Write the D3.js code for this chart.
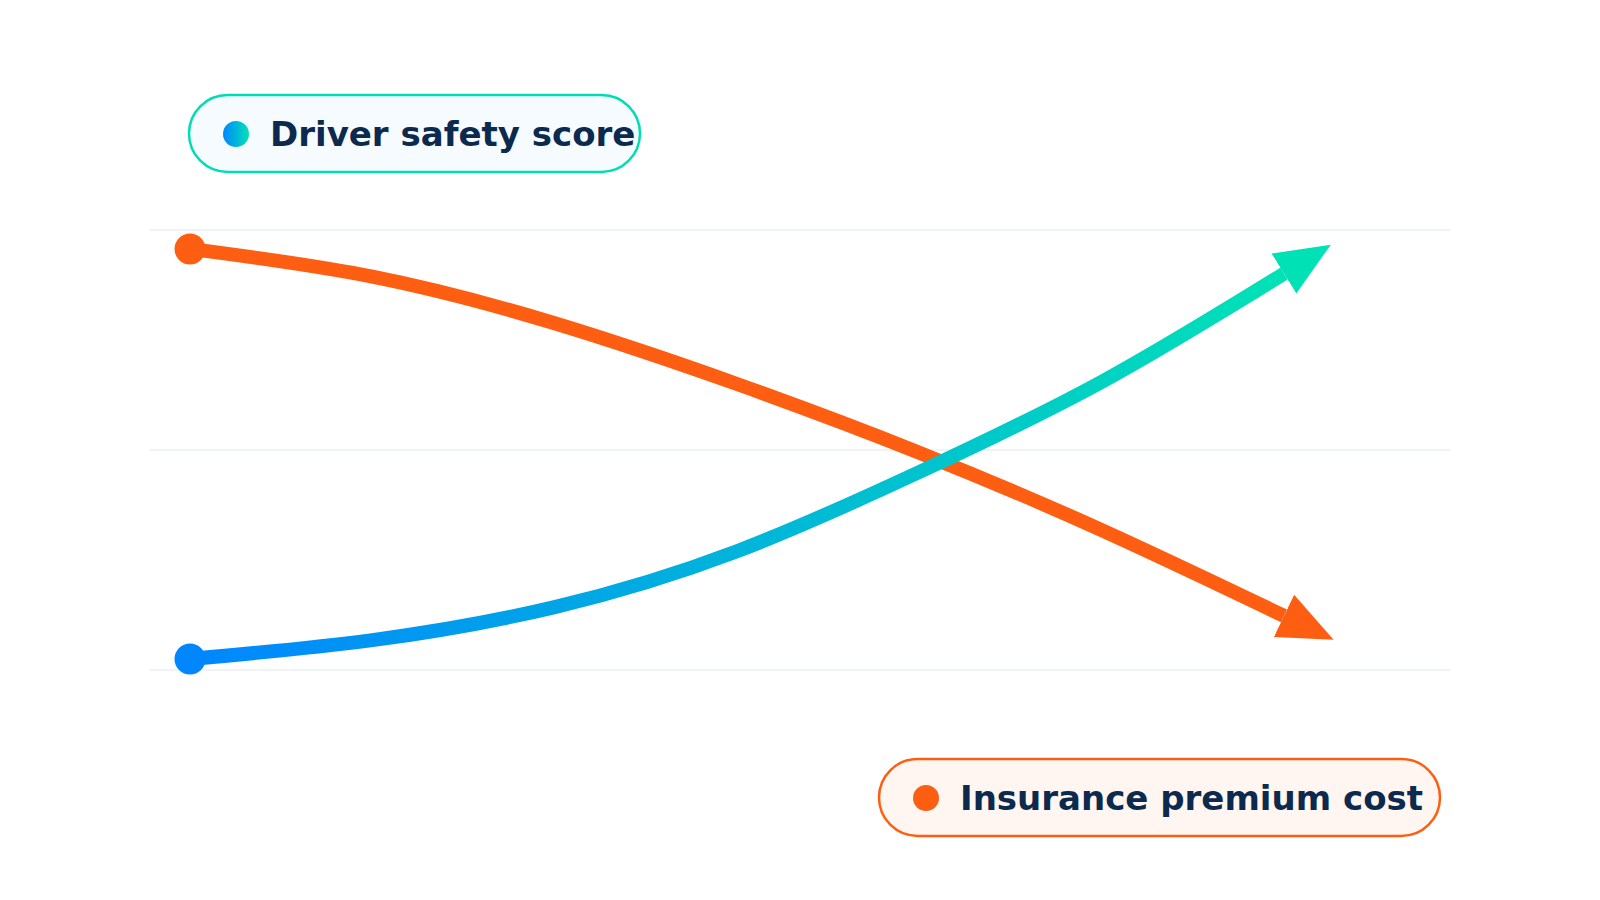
<!DOCTYPE html>
<html lang="en">
  <head>
    <meta charset="UTF-8">
    <title>Driver safety vs premium</title>
    <style>
      body { margin: 0; background: #ffffff; }
      #chart text { font-family: "DejaVu Sans", sans-serif; }
    </style>
  </head>
  <body>
    <div id="chart"></div>
    <script src="https://d3js.org/d3.v7.min.js"></script>
    <script>
      // values (0-100 scale)
      var stages = [0, 1, 2, 3, 4, 5, 6];
      var safetyScore = [2.5, 6.8, 14.3, 27.0, 45.0, 65.5, 90.1];
      var premiumCost = [95.7, 89.4, 78.8, 65.0, 49.4, 31.8, 12.3];
      var gridTicks = [0, 50, 100];
      var seriesNames = ["Driver safety score", "Insurance premium cost"];

      var width = 1600, height = 900;

      var svg = d3.select("#chart")
        .append("svg")
          .attr("width", width)
          .attr("height", height);

      var x = d3.scaleLinear()
          .domain([0, 6])
          .range([190, 1284]);

      var y = d3.scaleLinear()
          .domain([0, 100])
          .range([670, 230]);

      var defs = svg.append("defs");

      // gradient along the safety line, blue -> teal
      var grad = defs.append("linearGradient")
          .attr("id", "safetyGrad")
          .attr("gradientUnits", "userSpaceOnUse")
          .attr("x1", x(0)).attr("y1", 0)
          .attr("x2", x(6)).attr("y2", 0);
      grad.append("stop").attr("offset", "0%").attr("stop-color", "#0086ff");
      grad.append("stop").attr("offset", "100%").attr("stop-color", "#00e2b6");

      var dotGrad = defs.append("linearGradient")
          .attr("id", "dotGrad")
          .attr("x1", "0%").attr("x2", "100%");
      dotGrad.append("stop").attr("offset", "0%").attr("stop-color", "#0086ff");
      dotGrad.append("stop").attr("offset", "100%").attr("stop-color", "#00e2b6");

      function arrowMarker(id, color) {
        defs.append("marker")
            .attr("id", id)
            .attr("markerUnits", "userSpaceOnUse")
            .attr("viewBox", "0 -24 56 48")
            .attr("refX", 0)
            .attr("refY", 0)
            .attr("markerWidth", 56)
            .attr("markerHeight", 48)
            .attr("orient", "auto")
          .append("path")
            .attr("d", "M0,-23.5L55,0L0,23.5Z")
            .attr("fill", color);
      }
      arrowMarker("arrowTeal", "#00e2b6");
      arrowMarker("arrowOrange", "#fd5e12");

      // grid lines
      svg.append("g")
        .selectAll("line")
        .data(gridTicks)
        .enter()
        .append("line")
          .attr("x1", 150)
          .attr("x2", 1450)
          .attr("y1", function(d){ return y(d); })
          .attr("y2", function(d){ return y(d); })
          .attr("stroke", "#edf0f3")
          .attr("stroke-width", 1.5);

      var line = d3.line()
          .x(function(d){ return x(d[0]); })
          .y(function(d){ return y(d[1]); })
          .curve(d3.curveNatural);

      var premiumData = stages.map(function(s, i){ return [s, premiumCost[i]]; });
      var safetyData = stages.map(function(s, i){ return [s, safetyScore[i]]; });

      svg.append("path")
          .datum(premiumData)
          .attr("d", line)
          .attr("fill", "none")
          .attr("stroke", "#fd5e12")
          .attr("stroke-width", 14)
          .attr("marker-end", "url(#arrowOrange)");

      svg.append("path")
          .datum(safetyData)
          .attr("d", line)
          .attr("fill", "none")
          .attr("stroke", "url(#safetyGrad)")
          .attr("stroke-width", 14)
          .attr("marker-end", "url(#arrowTeal)");

      // start dots
      svg.append("circle")
          .attr("cx", x(stages[0]))
          .attr("cy", y(premiumCost[0]))
          .attr("r", 15.5)
          .attr("fill", "#fd5e12");

      svg.append("circle")
          .attr("cx", x(stages[0]))
          .attr("cy", y(safetyScore[0]))
          .attr("r", 15.5)
          .attr("fill", "#0086ff");

      // legend pills
      var legends = [
        {name: seriesNames[0], x: 189, y: 95, w: 451, fill: "#f5fbff", stroke: "#00ddb5", dot: "url(#dotGrad)"},
        {name: seriesNames[1], x: 879, y: 759, w: 561, fill: "#fff6f2", stroke: "#fd5e12", dot: "#fd5e12"}
      ];

      var lg = svg.selectAll(".legend")
        .data(legends)
        .enter()
        .append("g")
          .attr("class", "legend")
          .attr("transform", function(d){ return "translate(" + d.x + "," + d.y + ")"; });

      lg.append("rect")
          .attr("width", function(d){ return d.w; })
          .attr("height", 77)
          .attr("rx", 38.5)
          .attr("fill", function(d){ return d.fill; })
          .attr("stroke", function(d){ return d.stroke; })
          .attr("stroke-width", 2.5);

      lg.append("circle")
          .attr("cx", 47)
          .attr("cy", 39)
          .attr("r", 13)
          .attr("fill", function(d){ return d.dot; });

      lg.append("text")
          .attr("x", 81)
          .attr("y", 51)
          .attr("font-size", 34)
          .attr("font-weight", "bold")
          .attr("fill", "#0c2a4d")
          .text(function(d){ return d.name; });
    </script>
  </body>
</html>
